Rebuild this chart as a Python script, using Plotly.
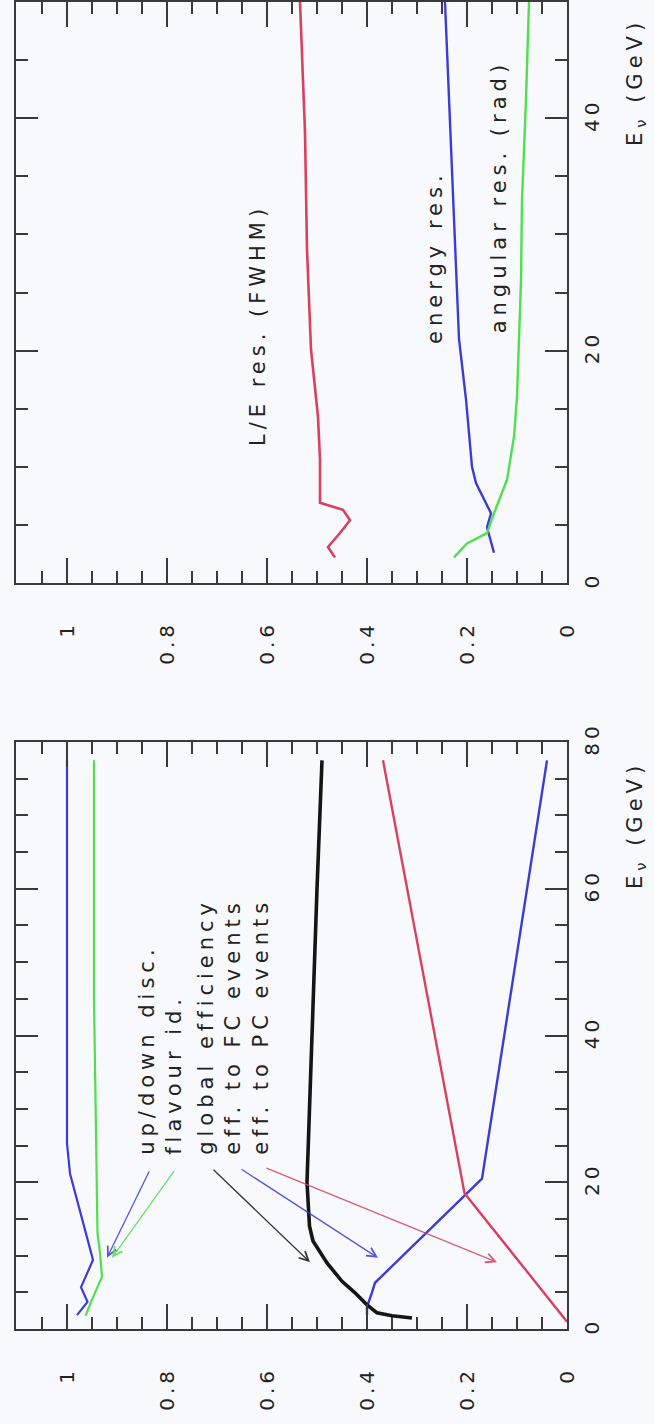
import plotly.graph_objects as go

# ---------------- data (bottom panel: efficiencies vs E_nu) ----------------
E_updown = [1.9, 3.7, 5.7, 9.4, 21.2, 25.3, 77.5]
v_updown = [0.98, 0.959, 0.972, 0.948, 0.994, 1.0, 1.0]

E_flavour = [1.8, 4.0, 7.1, 10.4, 13, 45, 77.5]
v_flavour = [0.963, 0.95, 0.93, 0.934, 0.939, 0.946, 0.946]

E_global = [1.5, 1.8, 2.2, 3.3, 5.0, 6.5, 9.0, 12, 14, 20, 30, 45, 60, 77.5]
v_global = [0.31, 0.35, 0.38, 0.40, 0.425, 0.45, 0.48, 0.508, 0.515, 0.52, 0.515, 0.508, 0.50, 0.49]

E_fc = [1.9, 3.0, 5.0, 6.3, 20.5, 77.5]
v_fc = [0.40, 0.40, 0.39, 0.384, 0.17, 0.04]

E_pc = [1.0, 18.5, 77.5]
v_pc = [0.0, 0.205, 0.368]

# ---------------- data (top panel: resolutions vs E_nu) ----------------
E_le = [2.2, 3.1, 4.3, 5.4, 6.3, 6.9, 10.6, 14.3, 20.1, 28.7, 38.8, 50]
v_le = [0.464, 0.478, 0.454, 0.434, 0.448, 0.494, 0.494, 0.498, 0.512, 0.52, 0.524, 0.534]

E_energy = [2.6, 4.8, 6.0, 8.6, 10, 15.8, 21, 31, 40, 50]
v_energy = [0.146, 0.16, 0.152, 0.182, 0.19, 0.202, 0.216, 0.226, 0.234, 0.244]

E_angular = [2.2, 3.4, 4.3, 6.0, 8.9, 12.6, 16, 26, 33, 41.6, 50]
v_angular = [0.226, 0.2, 0.16, 0.146, 0.12, 0.106, 0.10, 0.092, 0.09, 0.082, 0.076]

value_ticks = [0, 0.2, 0.4, 0.6, 0.8, 1]
value_labels = ["0", "0.2", "0.4", "0.6", "0.8", "1"]

BLUE = "#3b3bd6"
GREEN = "#4ee04e"
RED = "#d9405e"
BLACK = "#151515"
AX = "#3a3a3a"
BG = "#f8f9fc"
FONT = "DejaVu Sans"

fig = go.Figure()

def line(E, v, color, width, xa, ya):
    fig.add_trace(go.Scatter(x=v, y=E, mode="lines", xaxis=xa, yaxis=ya,
                             line=dict(color=color, width=width), showlegend=False,
                             hoverinfo="skip"))

# bottom panel
line(E_updown, v_updown, BLUE, 2.2, "x", "y")
line(E_flavour, v_flavour, GREEN, 2.2, "x", "y")
line(E_fc, v_fc, BLUE, 2.4, "x", "y")
line(E_pc, v_pc, RED, 2.4, "x", "y")
line(E_global, v_global, BLACK, 3.6, "x", "y")
# top panel
line(E_le, v_le, RED, 2.6, "x2", "y2")
line(E_energy, v_energy, BLUE, 2.4, "x2", "y2")
line(E_angular, v_angular, GREEN, 2.4, "x2", "y2")

H = 1424.0
W = 654.0
xdom = [16 / W, 567 / W]

def value_axis(anchor):
    return dict(domain=xdom, anchor=anchor, range=[1.102, 0], automargin=False,
                tickvals=value_ticks, ticktext=value_labels, tickangle=-90,
                ticks="inside", ticklen=25, tickwidth=2, tickcolor=AX,
                minor=dict(ticks="inside", ticklen=12, tickwidth=1.6, tickcolor=AX,
                           tick0=0, dtick=0.05),
                showline=True, linecolor=AX, linewidth=2, mirror="allticks",
                showgrid=False, zeroline=False, ticklabelstandoff=28,
                tickfont=dict(family=FONT, size=20, color="#222"))

def energy_axis(anchor, dom, rng):
    return dict(domain=dom, anchor=anchor, range=rng, side="right", automargin=False,
                tick0=0, dtick=20, tickangle=-90,
                ticks="inside", ticklen=22, tickwidth=2, tickcolor=AX,
                minor=dict(ticks="inside", ticklen=12, tickwidth=1.6, tickcolor=AX,
                           tick0=0, dtick=5),
                showline=True, linecolor=AX, linewidth=2, mirror="allticks",
                showgrid=False, zeroline=False, ticklabelstandoff=6,
                tickfont=dict(family=FONT, size=20, color="#222"))

fig.update_layout(
    width=654, height=1424,
    margin=dict(l=0, r=0, t=0, b=0, autoexpand=False),
    paper_bgcolor=BG, plot_bgcolor=BG,
    xaxis=value_axis("y"),
    yaxis=energy_axis("x", [1 - 1329 / H, 1 - 742 / H], [0, 80]),
    xaxis2=value_axis("y2"),
    yaxis2=energy_axis("x2", [1 - 583 / H, 1 - 2 / H], [0, 50]),
)

ann = []
tf = dict(family=FONT, size=21, color="#222")
# bottom panel labels
ann.append(dict(xref="x", yref="y", x=0.812, y=23.4, xanchor="center", yanchor="bottom",
                text="up/down disc.<br>flavour id.", textangle=-90, align="left",
                showarrow=False, font=tf))
ann.append(dict(xref="x", yref="y", x=0.666, y=23.4, xanchor="center", yanchor="bottom",
                text="global efficiency<br>eff. to FC events<br>eff. to PC events",
                textangle=-90, align="left", showarrow=False, font=tf))
# arrows (head x,y ; tail ax,ay)
arrows = [
    (0.92, 9.7, 0.834, 21.7, BLUE),
    (0.91, 9.7, 0.784, 21.7, GREEN),
    (0.514, 9.1, 0.71, 21.9, BLACK),
    (0.378, 9.7, 0.654, 21.9, BLUE),
    (0.14, 9.1, 0.604, 22.0, RED),
]
for hx, hy, tx, ty, c in arrows:
    ann.append(dict(xref="x", yref="y", axref="x", ayref="y", x=hx, y=hy, ax=tx, ay=ty,
                    text="", showarrow=True, arrowhead=5, arrowsize=1.4, arrowwidth=1.3,
                    arrowcolor=c, opacity=0.85))
# top panel labels
ann.append(dict(xref="x2", yref="y2", x=(567 - 258) / 500, y=(583 - 326) / 11.6,
                xanchor="center", yanchor="middle",
                text="L/E res. (FWHM)", textangle=-90, showarrow=False, font=tf))
ann.append(dict(xref="x2", yref="y2", x=(567 - 435) / 500, y=(583 - 258) / 11.6,
                xanchor="center", yanchor="middle",
                text="energy res.", textangle=-90, showarrow=False, font=tf))
ann.append(dict(xref="x2", yref="y2", x=(567 - 499) / 500, y=(583 - 198) / 11.6,
                xanchor="center", yanchor="middle",
                text="angular res. (rad)", textangle=-90, showarrow=False, font=tf))
# axis titles
ann.append(dict(xref="paper", yref="paper", x=636 / W, y=1 - 82 / H,
                xanchor="center", yanchor="middle",
                text="E<sub>ν</sub> (GeV)", textangle=-90, showarrow=False, font=tf))
ann.append(dict(xref="paper", yref="paper", x=636 / W, y=1 - 825 / H,
                xanchor="center", yanchor="middle",
                text="E<sub>ν</sub> (GeV)", textangle=-90, showarrow=False, font=tf))

fig.update_layout(annotations=ann)

# the scanned original has its lettering stretched along the reading direction
post = """
var gd = document.getElementById('{plot_id}');
gd.querySelectorAll('text.annotation-text').forEach(function(t){ t.style.letterSpacing = '5px'; });
gd.querySelectorAll('g.xtick text, g.x2tick text, g.ytick text, g.y2tick text').forEach(function(t){ t.style.letterSpacing = '4px'; });
"""
fig.write_html("out.html", post_script=post)
